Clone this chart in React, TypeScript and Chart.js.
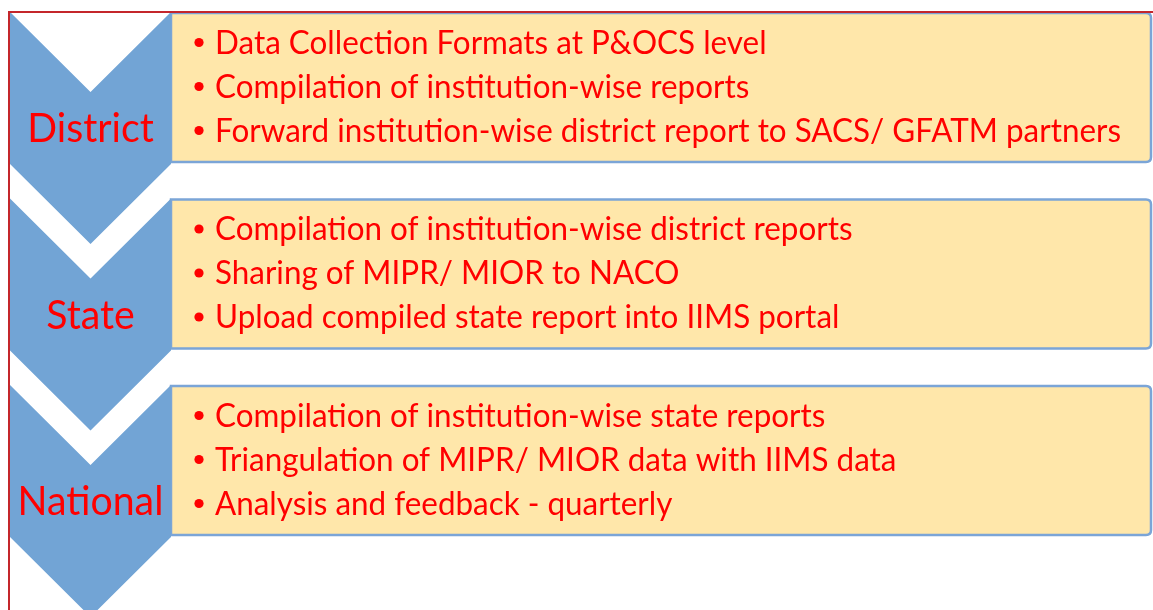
import React, { useEffect, useRef } from "react";
import { Chart, registerables } from "chart.js";

Chart.register(...registerables);

// ---- Data ----
const levels = ["District", "State", "National"];
const districtTasks = [
  "Data Collection Formats at P&OCS level",
  "Compilation of institution-wise reports",
  "Forward institution-wise district report to SACS/ GFATM partners",
];
const stateTasks = [
  "Compilation of institution-wise district reports",
  "Sharing of MIPR/ MIOR to NACO",
  "Upload compiled state report into IIMS portal",
];
const nationalTasks = [
  "Compilation of institution-wise state reports",
  "Triangulation of MIPR/ MIOR data with IIMS data",
  "Analysis and feedback - quarterly",
];
const taskLists = [districtTasks, stateTasks, nationalTasks];

// ---- Layout (in scale units == pixels) ----
const W = 1153;
const H = 610;
const CHEV_LEFT = 10;
const CHEV_RIGHT = 171;
const CHEV_TOPS = [12, 198.5, 385];
const CHEV_SIDE = 152;
const CHEV_DEPTH = 80;
const BOX_LEFT = 171;
const BOX_RIGHT = 1151;
const BOX_HEIGHT = 149;
const LINE_GAP = 44;
const BULLET_X = 199;
const TEXT_X = 215;
const TEXT_WIDTH = 906;

const FONT = "Lato, 'Open Sans', sans-serif";
const CHEV_COLOR = "#72A4D5";
const BOX_FILL = "#FFE7AA";
const BOX_BORDER = "#7BA5D7";
const TEXT_RED = "#FF0000";
const FRAME_RED = "#C4262B";

const diagramPlugin = {
  id: "diagram",
  afterDraw(chart: any) {
    const ctx: CanvasRenderingContext2D = chart.ctx;
    const xs = chart.scales.x;
    const ys = chart.scales.y;
    const X = (v: number) => xs.getPixelForValue(v);
    const Y = (v: number) => ys.getPixelForValue(v);

    // horizontal text scaling to mimic Calibri proportions
    ctx.save();
    ctx.font = `32px ${FONT}`;
    const longest = ctx.measureText(districtTasks[2]).width;
    ctx.restore();
    const sx = TEXT_WIDTH / longest;

    levels.forEach((lvl, i) => {
      const top = CHEV_TOPS[i];
      const bTop = top + 1;
      const bBot = bTop + BOX_HEIGHT;
      // box
      ctx.save();
      const r = 5;
      ctx.beginPath();
      ctx.moveTo(X(BOX_LEFT), Y(bTop));
      ctx.lineTo(X(BOX_RIGHT) - r, Y(bTop));
      ctx.quadraticCurveTo(X(BOX_RIGHT), Y(bTop), X(BOX_RIGHT), Y(bTop) + r);
      ctx.lineTo(X(BOX_RIGHT), Y(bBot) - r);
      ctx.quadraticCurveTo(X(BOX_RIGHT), Y(bBot), X(BOX_RIGHT) - r, Y(bBot));
      ctx.lineTo(X(BOX_LEFT), Y(bBot));
      ctx.closePath();
      ctx.fillStyle = BOX_FILL;
      ctx.fill();
      ctx.lineWidth = 2.5;
      ctx.strokeStyle = BOX_BORDER;
      ctx.stroke();
      ctx.restore();

      // chevron
      const L = X(CHEV_LEFT);
      const R = X(CHEV_RIGHT);
      const C = (L + R) / 2;
      const t = Y(top);
      const b = Y(top + CHEV_SIDE);
      const d = Y(top + CHEV_DEPTH) - Y(top);
      ctx.save();
      ctx.beginPath();
      ctx.moveTo(L, t);
      ctx.lineTo(C, t + d);
      ctx.lineTo(R, t);
      ctx.lineTo(R, b);
      ctx.lineTo(C, b + d);
      ctx.lineTo(L, b);
      ctx.closePath();
      ctx.fillStyle = CHEV_COLOR;
      ctx.fill();
      ctx.restore();

      // level label
      const labelCenter = (top + CHEV_DEPTH + top + CHEV_SIDE) / 2;
      ctx.save();
      ctx.font = `40px ${FONT}`;
      ctx.fillStyle = TEXT_RED;
      ctx.textBaseline = "alphabetic";
      const lw = ctx.measureText(lvl).width * sx;
      ctx.translate(C - lw / 2, Y(labelCenter + 14));
      ctx.scale(sx, 1);
      ctx.fillText(lvl, 0, 0);
      ctx.restore();

      // tasks
      const boxCenter = (bTop + bBot) / 2 - 1;
      const tasks = taskLists[i];
      tasks.forEach((task, j) => {
        const capMid = boxCenter + (j - (tasks.length - 1) / 2) * LINE_GAP;
        ctx.save();
        ctx.fillStyle = TEXT_RED;
        ctx.beginPath();
        ctx.arc(X(BULLET_X), Y(capMid), 4.6, 0, Math.PI * 2);
        ctx.fill();
        ctx.font = `32px ${FONT}`;
        ctx.textBaseline = "alphabetic";
        ctx.translate(X(TEXT_X), Y(capMid + 11));
        ctx.scale(sx, 1);
        ctx.fillText(task, 0, 0);
        ctx.restore();
      });
    });

    // red frame
    ctx.save();
    ctx.strokeStyle = FRAME_RED;
    ctx.lineWidth = 2;
    ctx.beginPath();
    ctx.moveTo(X(9), Y(H));
    ctx.lineTo(X(9), Y(12));
    ctx.lineTo(X(W), Y(12));
    ctx.stroke();
    ctx.restore();
  },
};

export default function App() {
  const ref = useRef<HTMLCanvasElement | null>(null);
  useEffect(() => {
    document.body.style.margin = "0";
    const canvas = ref.current;
    if (!canvas) return;
    const chart = new Chart(canvas, {
      type: "scatter",
      data: { datasets: [{ data: [], pointRadius: 0 }] },
      options: {
        responsive: false,
        maintainAspectRatio: false,
        animation: false,
        events: [],
        layout: { padding: 0 },
        plugins: {
          legend: { display: false },
          tooltip: { enabled: false },
          title: { display: false },
        },
        scales: {
          x: { type: "linear", min: 0, max: W, display: false },
          y: { type: "linear", min: 0, max: H, reverse: true, display: false },
        },
      },
      plugins: [diagramPlugin],
    });
    return () => chart.destroy();
  }, []);
  return (
    <div style={{ position: "fixed", left: 0, top: 0, width: W, height: H, background: "#fff" }}>
      <canvas ref={ref} width={W} height={H} style={{ width: W, height: H, display: "block" }} />
    </div>
  );
}
